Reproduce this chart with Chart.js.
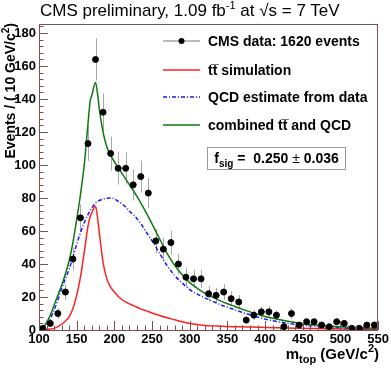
<!DOCTYPE html>
<html>
<head>
<meta charset="utf-8">
<script src="https://cdn.jsdelivr.net/npm/chart.js@4.4.0/dist/chart.umd.min.js"></script>
<style>
  body { margin: 0; background: #fff; }
  #wrap { position: relative; width: 391px; height: 368px; font-family: "Liberation Sans", Arial, Helvetica, sans-serif; color: #000; }
  #myChart { position: absolute; left: 0; top: 0; }
  .txt { position: absolute; white-space: nowrap; }
  #title { left: 40px; top: 0px; font-size: 17px; line-height: 22px; }
  #title sup { font-size: 11px; vertical-align: 7px; line-height: 0; }
  #ytitle { left: 2px; top: 223px; width: 200px; height: 16px; line-height: 16px; text-align: right; font-size: 14px; font-weight: bold; transform-origin: top left; transform: rotate(-90deg); }
  #xtitle { right: 12px; top: 345px; font-size: 15px; font-weight: bold; line-height: 18px; }
  sub, sup { line-height: 0; }
  .leg { position: absolute; left: 163px; height: 16px; font-size: 14px; font-weight: bold; display: flex; align-items: center; }
  .leg svg { margin-right: 8px; }
  #fsig { left: 207px; top: 147px; width: 137px; height: 21px; border: 1px solid #999; font-size: 14px; font-weight: bold; line-height: 20px; text-align: center; }
</style>
</head>
<body>
<div id="wrap">
  <canvas id="myChart" width="391" height="368"></canvas>
  <div class="txt" id="title">CMS preliminary, 1.09 fb<sup>-1</sup> at &#8730;s = 7 TeV</div>
  <div class="txt" id="ytitle">Events / ( 10 GeV/c<sup style="font-size:10px;vertical-align:6px">2</sup>)</div>
  <div class="txt" id="xtitle">m<sub style="font-size:11px;vertical-align:-4px">top</sub> (GeV/c<sup style="font-size:11px;vertical-align:7px">2</sup>)</div>

  <div class="leg" style="top:33px"><svg width="37" height="10"><line x1="0" y1="5" x2="37" y2="5" stroke="#777" stroke-width="1"/><circle cx="18.5" cy="5" r="3" fill="#000"/></svg>CMS data: 1620 events</div>
  <div class="leg" style="top:62px"><svg width="37" height="10"><line x1="0" y1="5" x2="37" y2="5" stroke="#ff2020" stroke-width="1.5"/></svg>tt&#773; simulation</div>
  <div class="leg" style="top:89px"><svg width="37" height="10"><line x1="0" y1="5" x2="37" y2="5" stroke="#1a1aff" stroke-width="1.5" stroke-dasharray="4 2 1 2"/></svg>QCD estimate from data</div>
  <div class="leg" style="top:117px"><svg width="37" height="10"><line x1="0" y1="5" x2="37" y2="5" stroke="#117711" stroke-width="1.5"/></svg>combined tt&#773; and QCD</div>
  <div class="txt" id="fsig">f<sub style="font-size:10px;vertical-align:-4px">sig</sub> =&nbsp; 0.250<span style="font-weight:normal"> &#177; </span>0.036</div>
</div>

<script>
// data histogram: 10 GeV bins
const massBins = [105, 115, 125, 135, 145, 155, 165, 175, 185, 195,
  205, 215, 225, 235, 245, 255, 265, 275, 285, 295,
  305, 315, 325, 335, 345, 355, 365, 375, 385, 395,
  405, 415, 425, 435, 445, 455, 465, 475, 485, 495,
  505, 515, 525, 535, 545];
const dataCounts = [1, 4, 10, 23, 43, 68, 113, 164, 132, 107,
  98, 98, 88, 93, 83, 54, 49, 53, 40, 32,
  31, 31, 22, 21, 23, 19, 17, 6, 9, 11,
  11, 9, 2, 10, 3, 5, 5, 3, 2, 5,
  4, 1, 1, 3, 3];
const dataErrors = [1, 2, 3.2, 4.8, 6.6, 8.2, 10.6, 12.8, 11.5, 10.3,
  9.9, 9.9, 9.4, 9.6, 9.1, 7.3, 7, 7.3, 6.3, 5.7,
  5.6, 5.6, 4.7, 4.6, 4.8, 4.4, 4.1, 2.4, 3, 3.3,
  3.3, 3, 1.4, 3.2, 1.7, 2.2, 2.2, 1.7, 1.4, 2.2,
  2, 1, 1, 1.7, 1.7];

// fitted curves
const curveMass = [100, 105, 110, 115, 120, 125, 130, 135, 140, 145, 150, 155, 160, 165, 168, 170, 175, 178, 180,
  185, 190, 195, 200, 205, 210, 215, 220, 225, 230, 235, 240, 245, 250,
  260, 270, 280, 290, 300, 310, 320, 330, 340, 350, 360, 370, 380, 390, 400,
  420, 440, 460, 480, 500, 525, 550];
const ttbarCurve = [0, 0.1, 0.3, 0.6, 1, 2, 3.5, 5.5, 8, 13, 21, 32, 47, 63, 69, 71, 75, 67, 59,
  41, 31, 26, 23, 20.5, 18.5, 17, 15.8, 14.8, 13.8, 12.8, 12, 11.2, 10.3,
  8.8, 7.4, 6.2, 5, 4, 3.3, 2.8, 2.5, 2.3, 2.1, 2, 1.9, 1.8, 1.7, 1.5,
  1.3, 1.1, 0.9, 0.8, 0.6, 0.5, 0.4];
const qcdCurve = [0, 1.5, 4, 7, 12, 18, 25, 31, 37, 44, 52, 59, 65, 70, 72.5, 74, 77, 78, 78.5,
  79.3, 79.8, 80, 79.5, 78, 76.5, 74.5, 72, 70, 67.5, 64.5, 61, 57.5, 54,
  46.5, 39, 33, 28.5, 24.5, 21.8, 19.5, 17.5, 15.5, 13.8, 12.2, 10.6, 9.2, 7.8, 6.6,
  4.8, 3.4, 2.5, 1.8, 1.3, 0.9, 0.6];
const combinedCurve = [0, 1.5, 4.5, 9, 15, 21, 27, 34, 42, 53, 67, 82, 100, 125, 139, 142, 150, 142, 134,
  120, 111, 106, 102, 98.5, 95, 91.5, 88, 84.5, 81, 77, 73, 68.7, 64.3,
  55.3, 46.5, 39.2, 33.5, 28.7, 25.3, 22.3, 20, 17.8, 15.9, 14.2, 12.5, 11, 9.6, 8.2,
  6.2, 4.6, 3.4, 2.6, 1.9, 1.4, 1.0];

const xMin = 100, xMax = 550;
const yMin = 0, yMax = 185.5;
const frameColor = "#7a5050";

function pairs(xs, ys) {
  return xs.map((x, i) => ({ x: x, y: ys[i] }));
}

// error bars under the markers
const errorBars = {
  id: "errorBars",
  beforeDatasetsDraw(chart) {
    const ctx = chart.ctx;
    const xs = chart.scales.x, ys = chart.scales.y;
    ctx.save();
    ctx.strokeStyle = "#a8a8a8";
    ctx.lineWidth = 1;
    ctx.beginPath();
    for (let i = 0; i < massBins.length; i++) {
      const px = Math.round(xs.getPixelForValue(massBins[i])) + 0.5;
      const lo = Math.max(yMin, dataCounts[i] - dataErrors[i]);
      const hi = dataCounts[i] + dataErrors[i];
      ctx.moveTo(px, ys.getPixelForValue(lo));
      ctx.lineTo(px, ys.getPixelForValue(hi));
    }
    ctx.stroke();
    ctx.restore();
  }
};

// ROOT style frame with ticks pointing inward
const rootFrame = {
  id: "rootFrame",
  afterDraw(chart) {
    const ctx = chart.ctx;
    const a = chart.chartArea;
    const xs = chart.scales.x, ys = chart.scales.y;
    ctx.save();
    ctx.strokeStyle = frameColor;
    ctx.lineWidth = 1;
    ctx.strokeRect(Math.round(a.left) + 0.5, Math.round(a.top) + 0.5,
      Math.round(a.right - a.left) - 1, Math.round(a.bottom - a.top));
    ctx.beginPath();
    for (let v = xMin; v <= xMax; v += 10) {
      const px = Math.round(xs.getPixelForValue(v)) + 0.5;
      const len = (v % 50 === 0) ? 9 : 4.5;
      ctx.moveTo(px, a.bottom);
      ctx.lineTo(px, a.bottom - len);
    }
    for (let v = yMin; v <= 184; v += 4) {
      const py = Math.round(ys.getPixelForValue(v)) + 0.5;
      const len = (v % 20 === 0) ? 9 : 4.5;
      ctx.moveTo(a.left, py);
      ctx.lineTo(a.left + len, py);
    }
    ctx.stroke();
    ctx.restore();
  }
};

const tickFont = { family: "'Liberation Sans', Arial, Helvetica, sans-serif", size: 13, weight: "bold" };

new Chart("myChart", {
  type: "line",
  data: {
    datasets: [
      {
        label: "CMS data: 1620 events",
        type: "scatter",
        data: pairs(massBins, dataCounts),
        backgroundColor: "#000",
        borderColor: "#000",
        pointRadius: 3,
        pointHoverRadius: 3,
        order: 0
      },
      {
        label: "combined tt and QCD",
        data: pairs(curveMass, combinedCurve),
        borderColor: "#117711",
        borderWidth: 1.5,
        pointRadius: 0,
        cubicInterpolationMode: "monotone",
        order: 1
      },
      {
        label: "QCD estimate from data",
        data: pairs(curveMass, qcdCurve),
        borderColor: "#1a1aff",
        borderWidth: 1.5,
        borderDash: [4, 2, 1, 2],
        pointRadius: 0,
        cubicInterpolationMode: "monotone",
        order: 2
      },
      {
        label: "tt simulation",
        data: pairs(curveMass, ttbarCurve),
        borderColor: "#ff2020",
        borderWidth: 1.5,
        pointRadius: 0,
        cubicInterpolationMode: "monotone",
        order: 3
      }
    ]
  },
  options: {
    responsive: false,
    animation: false,
    layout: { padding: { left: 0, right: 12, top: 24, bottom: 0 } },
    plugins: { legend: { display: false }, title: { display: false }, tooltip: { enabled: false } },
    scales: {
      x: {
        type: "linear",
        min: xMin,
        max: xMax,
        grid: { display: false, drawTicks: false },
        border: { display: false },
        ticks: { stepSize: 50, includeBounds: false, padding: 2, color: "#000", font: tickFont, maxRotation: 0 },
        afterFit(scale) { scale.height = 38; }
      },
      y: {
        min: yMin,
        max: yMax,
        grid: { display: false, drawTicks: false },
        border: { display: false },
        ticks: { stepSize: 20, includeBounds: false, padding: 3, color: "#000", font: tickFont },
        afterFit(scale) { scale.width = 39; }
      }
    }
  },
  plugins: [errorBars, rootFrame]
});
</script>
</body>
</html>
